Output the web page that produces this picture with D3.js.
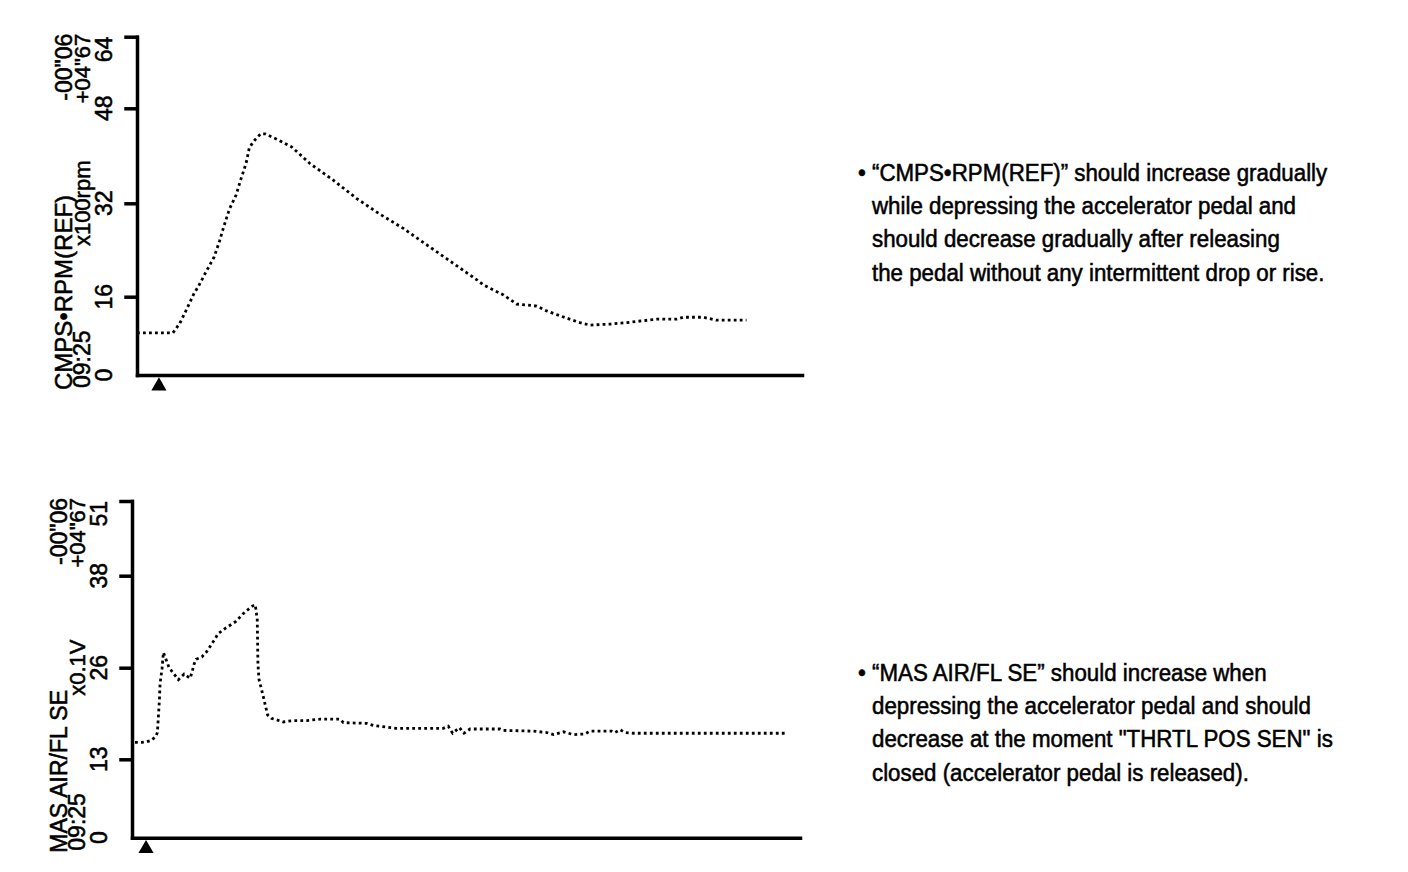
<!DOCTYPE html>
<head>
<meta charset="utf-8">
<title>CMPS RPM / MAS AIR FL SE</title>
<script src="https://cdn.jsdelivr.net/npm/d3@7/dist/d3.min.js"></script>
<style type="text/css">
  body { margin: 0; background: white; }
  text { font-family: "Liberation Sans", Arial, Helvetica, sans-serif; fill: black; stroke: black; stroke-width: 0.55; }
  .axis path, .axis line { stroke: black; stroke-width: 3.5; stroke-linecap: square; }
  .trace { fill: none; stroke: black; stroke-width: 2.8; stroke-dasharray: 2.8 3.2; }
</style>
</head>
<body>
<script type="text/javascript">

////////// data (time in samples, value in axis units) //////////
var rpmTime  = [0, 10.8, 12.9, 14.9, 17.2, 18.5, 20.8, 23.2, 24.8, 26.2, 27.8, 29.8, 31.2, 32.8, 33.8,
                35.5, 37.2, 38.5, 42.0, 46.5, 52.0, 59.0, 66.1, 72.6, 80.1, 87.1, 94.4, 102.2, 104.2,
                110.2, 114.2, 120.2, 123.2, 127.2, 133.2, 136.2, 142.3, 147.3, 152.3, 156.3, 162.3,
                164.3, 170.3, 174.3, 183.3];
var rpmValue = [8.6, 8.6, 10.6, 13.4, 16.6, 17.8, 20.3, 22.8, 25.5, 28.2, 31.0, 33.4, 36.0, 38.7, 41.4,
                42.7, 43.7, 43.7, 42.8, 41.5, 38.7, 35.9, 32.8, 30.3, 27.7, 24.9, 22.0, 18.9, 18.0,
                16.3, 14.5, 14.1, 13.1, 12.1, 10.7, 10.2, 10.4, 10.7, 11.1, 11.4, 11.4,
                11.8, 11.8, 11.2, 11.2];
var rpmTicks = [0, 16, 32, 48, 64];

var airTime  = [0.9, 2.9, 4.4, 5.9, 7.2, 7.6, 7.9, 8.2, 8.4, 9.0, 9.4, 11.1, 13.9, 15.6, 17.4, 18.0,
                18.6, 19.2, 20.9, 22.2, 23.0, 24.0, 24.8, 25.7, 26.9, 28.1, 29.6, 31.0, 32.1, 33.2,
                34.5, 35.9, 36.9, 37.5, 37.7, 38.0, 39.1, 40.6, 41.8, 43.3, 45.3, 48.3, 52.3, 56.3,
                62.3, 63.3, 70.3, 72.3, 79.2, 93.2, 94.7, 96.0, 98.0, 99.4, 101.2, 110.2, 111.2,
                120.2, 124.2, 126.2, 129.2, 132.2, 135.6, 137.1, 143.6, 144.6, 146.1, 147.6, 150.1, 195.5];
var airValue = [15.4, 15.4, 15.5, 15.7, 16.3, 16.8, 19.1, 21.4, 23.7, 25.9, 28.0, 26.0, 24.3, 25.1, 24.5, 25.4,
                26.5, 27.1, 27.4, 28.0, 28.5, 29.2, 29.7, 30.4, 30.8, 31.2, 31.6, 32.0, 32.5, 33.0,
                33.5, 34.0, 34.2, 32.3, 26.6, 24.4, 22.3, 19.3, 18.8, 18.6, 18.3, 18.5, 18.5, 18.7,
                18.7, 18.2, 18.1, 17.8, 17.4, 17.4, 17.7, 16.7, 17.5, 16.7, 17.3, 17.3, 17.1,
                17.0, 16.8, 16.5, 16.9, 16.5, 16.6, 17.0, 17.0, 16.8, 17.2, 16.8, 16.7, 16.7];
var airTicks = [0, 13, 26, 38, 51];

////////// texts //////////
var rpmName = "CMPS•RPM(REF)", rpmUnit = "x100rpm";
var airName = "MAS AIR/FL SE", airUnit = "x0.1V";
var clockLabel = "09:25";
var cursorLabels = ["-00\"06", "+04\"67"];

var rpmNote = ["• “CMPS•RPM(REF)” should increase gradually",
               "while depressing the accelerator pedal and",
               "should decrease gradually after releasing",
               "the pedal without any intermittent drop or rise."];
var airNote = ["• “MAS AIR/FL SE” should increase when",
               "depressing the accelerator pedal and should",
               "decrease at the moment \"THRTL POS SEN\" is",
               "closed (accelerator pedal is released)."];

////////// svg //////////
var w = 1408, h = 872;
var squeeze = 0.93; // scan is slightly narrower than it is tall

var svg = d3.select("body").append("svg")
    .attr("width", w)
    .attr("height", h);

svg.append("rect").attr("width", w).attr("height", h).attr("fill", "white");

//////// one scope panel
var drawPanel = function(p) {

  var xScale = d3.scaleLinear()
      .domain([0, 200])
      .range([p.left, p.right]);

  // the scope grid is not evenly spaced on the print, so each tick gets its own pixel row
  var yScale = d3.scaleLinear()
      .domain(p.ticks)
      .range(p.tickRows);

  var g = svg.append("g");

  // y axis with ticks (no tick at zero, the corner joins the time axis)
  g.append("g")
      .attr("class", "axis")
      .attr("transform", "translate(" + p.left + ",0)")
      .call(d3.axisLeft(yScale).tickValues(p.ticks.slice(1)).tickSize(11).tickSizeOuter(0).tickFormat(""));

  // time axis, no ticks
  g.append("g")
      .attr("class", "axis")
      .attr("transform", "translate(0," + yScale(0) + ")")
      .call(d3.axisBottom(xScale).tickValues([]).tickSizeOuter(0));

  // trigger marker
  g.append("path")
      .attr("d", d3.symbol(d3.symbolTriangle).size(100)())
      .attr("transform", "translate(" + xScale(p.trigger) + "," + (yScale(0) + 11) + ")")
      .attr("fill", "black");

  // dotted trace
  var pts = d3.zip(p.time, p.values);
  g.append("path")
      .datum(pts)
      .attr("class", "trace")
      .attr("d", d3.line()
          .x(function(d) { return xScale(d[0]); })
          .y(function(d) { return yScale(d[1]); }));

  // rotated labels: reading bottom to top
  var rot = function(x, y, str, anchor, size) {
    g.append("text")
        .attr("transform", "translate(" + x + "," + y + ") rotate(-90)")
        .attr("text-anchor", anchor)
        .attr("font-size", size)
        .text(str);
  };

  var top = yScale(p.ticks[p.ticks.length - 1]);
  var bottom = yScale(0);

  // tick values
  p.ticks.forEach(function(t, i) {
    if (i == p.ticks.length - 1) rot(p.left - 25, top, t, "end", 23);
    else rot(p.left - 25, yScale(t), t, "middle", 23);
  });

  rot(p.left - 65, bottom + 15, p.name, "start", p.nameSize);
  rot(p.left - 47, bottom + 13, clockLabel, "start", 23);
  rot(p.left - 47, yScale(p.ticks[2]), p.unit, "middle", 22);
  rot(p.left - 65, top - 3, cursorLabels[0], "end", 23);
  rot(p.left - 47, top - 3, cursorLabels[1], "end", 22);

  // note on the right
  var note = svg.append("g")
      .attr("transform", "translate(" + 858 + "," + p.noteTop + ") scale(" + squeeze + ",1)");
  note.selectAll("text")
      .data(p.note)
      .enter()
      .append("text")
      .attr("x", function(d, i) { return i == 0 ? 0 : 14 / squeeze; })
      .attr("y", function(d, i) { return i * 33.2; })
      .attr("font-size", 24)
      .text(function(d) { return d; });
};

drawPanel({
  time: rpmTime, values: rpmValue, ticks: rpmTicks,
  tickRows: [375, 296.7, 203.3, 108.3, 36.7],
  left: 137, right: 802, trigger: 6.6,
  name: rpmName, nameSize: 24, unit: rpmUnit,
  note: rpmNote, noteTop: 181
});

drawPanel({
  time: airTime, values: airValue, ticks: airTicks,
  tickRows: [837.7, 759.3, 667.7, 575.7, 501],
  left: 132, right: 800, trigger: 4.2,
  name: airName, nameSize: 23, unit: airUnit,
  note: airNote, noteTop: 681
});

</script>
</body>
